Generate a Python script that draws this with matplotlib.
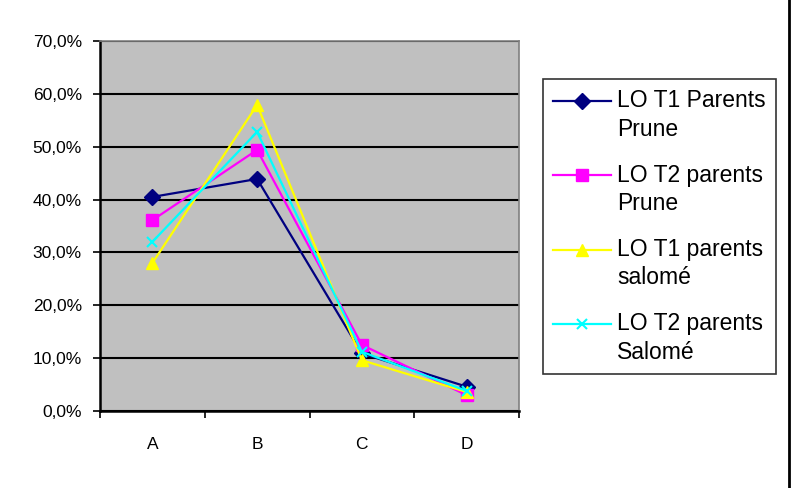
import matplotlib.pyplot as plt
from matplotlib.lines import Line2D
from matplotlib.ticker import FixedLocator, FuncFormatter
from matplotlib.legend_handler import HandlerLine2D

plt.rcParams['font.family'] = ['Liberation Sans', 'DejaVu Sans']

# data (in %)
categories = ['A', 'B', 'C', 'D']
lo_t1_prune = [40.5, 43.9, 10.9, 4.6]
lo_t2_prune = [36.1, 49.4, 12.5, 3.0]
lo_t1_salome = [28.0, 57.9, 9.6, 3.6]
lo_t2_salome = [32.0, 52.8, 11.2, 3.8]
labels = ['LO T1 Parents\nPrune', 'LO T2 parents\nPrune',
          'LO T1 parents\nsalomé', 'LO T2 parents\nSalomé']

LEG_FS = 16.5
LEG_LS = 1.3


# legend handle sits on the first text line (like Excel), not the middle
class FirstLineHandler(HandlerLine2D):
    def create_artists(self, legend, orig_handle, xdescent, ydescent,
                       width, height, fontsize, trans):
        arts = super().create_artists(legend, orig_handle, xdescent, ydescent,
                                      width, height, fontsize, trans)
        shift = 0.5 * LEG_LS * fontsize
        for a in arts:
            a.set_ydata([y + shift for y in a.get_ydata()])
        return arts


fig = plt.figure(figsize=(8.02, 4.88), dpi=100)
fig.patch.set_facecolor('white')
ax = fig.add_axes([100/802, 1-411/488, 419/802, 370/488])
ax.set_facecolor('#c0c0c0')

x = list(range(len(categories)))
series = [
    (lo_t1_prune, '#000080', 'D', 8),
    (lo_t2_prune, '#ff00ff', 's', 8),
    (lo_t1_salome, '#ffff00', '^', 9),
    (lo_t2_salome, '#00ffff', 'x', 7),
]
lines = []
for (vals, col, mk, ms), lab in zip(series, labels):
    ln, = ax.plot(x, vals, color=col, marker=mk, markersize=ms, linewidth=1.6,
                  markeredgewidth=1.5 if mk == 'x' else 1, label=lab, zorder=3)
    lines.append(ln)

ax.set_xlim(-0.5, 3.5)
ax.set_ylim(0, 70)
ax.set_yticks(range(0, 71, 10))
ax.yaxis.set_major_formatter(FuncFormatter(lambda v, p: f'{v:.1f}%'.replace('.', ',')))
ax.grid(axis='y', color='black', linewidth=1.5)
ax.set_axisbelow(True)

ax.xaxis.set_major_locator(FixedLocator([-0.5, 0.5, 1.5, 2.5, 3.5]))
ax.xaxis.set_minor_locator(FixedLocator(x))
ax.set_xticklabels([])
ax.set_xticklabels(categories, minor=True)
ax.tick_params(axis='x', which='major', length=5, width=1.2, direction='out')
ax.tick_params(axis='x', which='minor', length=0, pad=19, labelsize=12.5)
ax.tick_params(axis='y', length=5, width=1.2, pad=8, labelsize=12.5)

for s in ['left', 'bottom']:
    ax.spines[s].set_color('black')
    ax.spines[s].set_linewidth(1.8)
for s in ['top', 'right']:
    ax.spines[s].set_color('#808080')
    ax.spines[s].set_linewidth(1.2)

leg = fig.legend(handles=lines, loc='upper left',
                 bbox_to_anchor=(543/802, 1-79/488),
                 fontsize=LEG_FS, frameon=True, fancybox=False, edgecolor='black',
                 handlelength=2.5, handletextpad=0.3, labelspacing=1.0,
                 borderpad=0.45, borderaxespad=0,
                 handler_map={Line2D: FirstLineHandler()})
leg.get_frame().set_linewidth(1.2)
for t in leg.get_texts():
    t.set_linespacing(LEG_LS)

fig.add_artist(Line2D([789/802, 789/802], [0, 1], transform=fig.transFigure,
                      color='black', linewidth=2))

fig.savefig('out.png', dpi=100, facecolor='white')
